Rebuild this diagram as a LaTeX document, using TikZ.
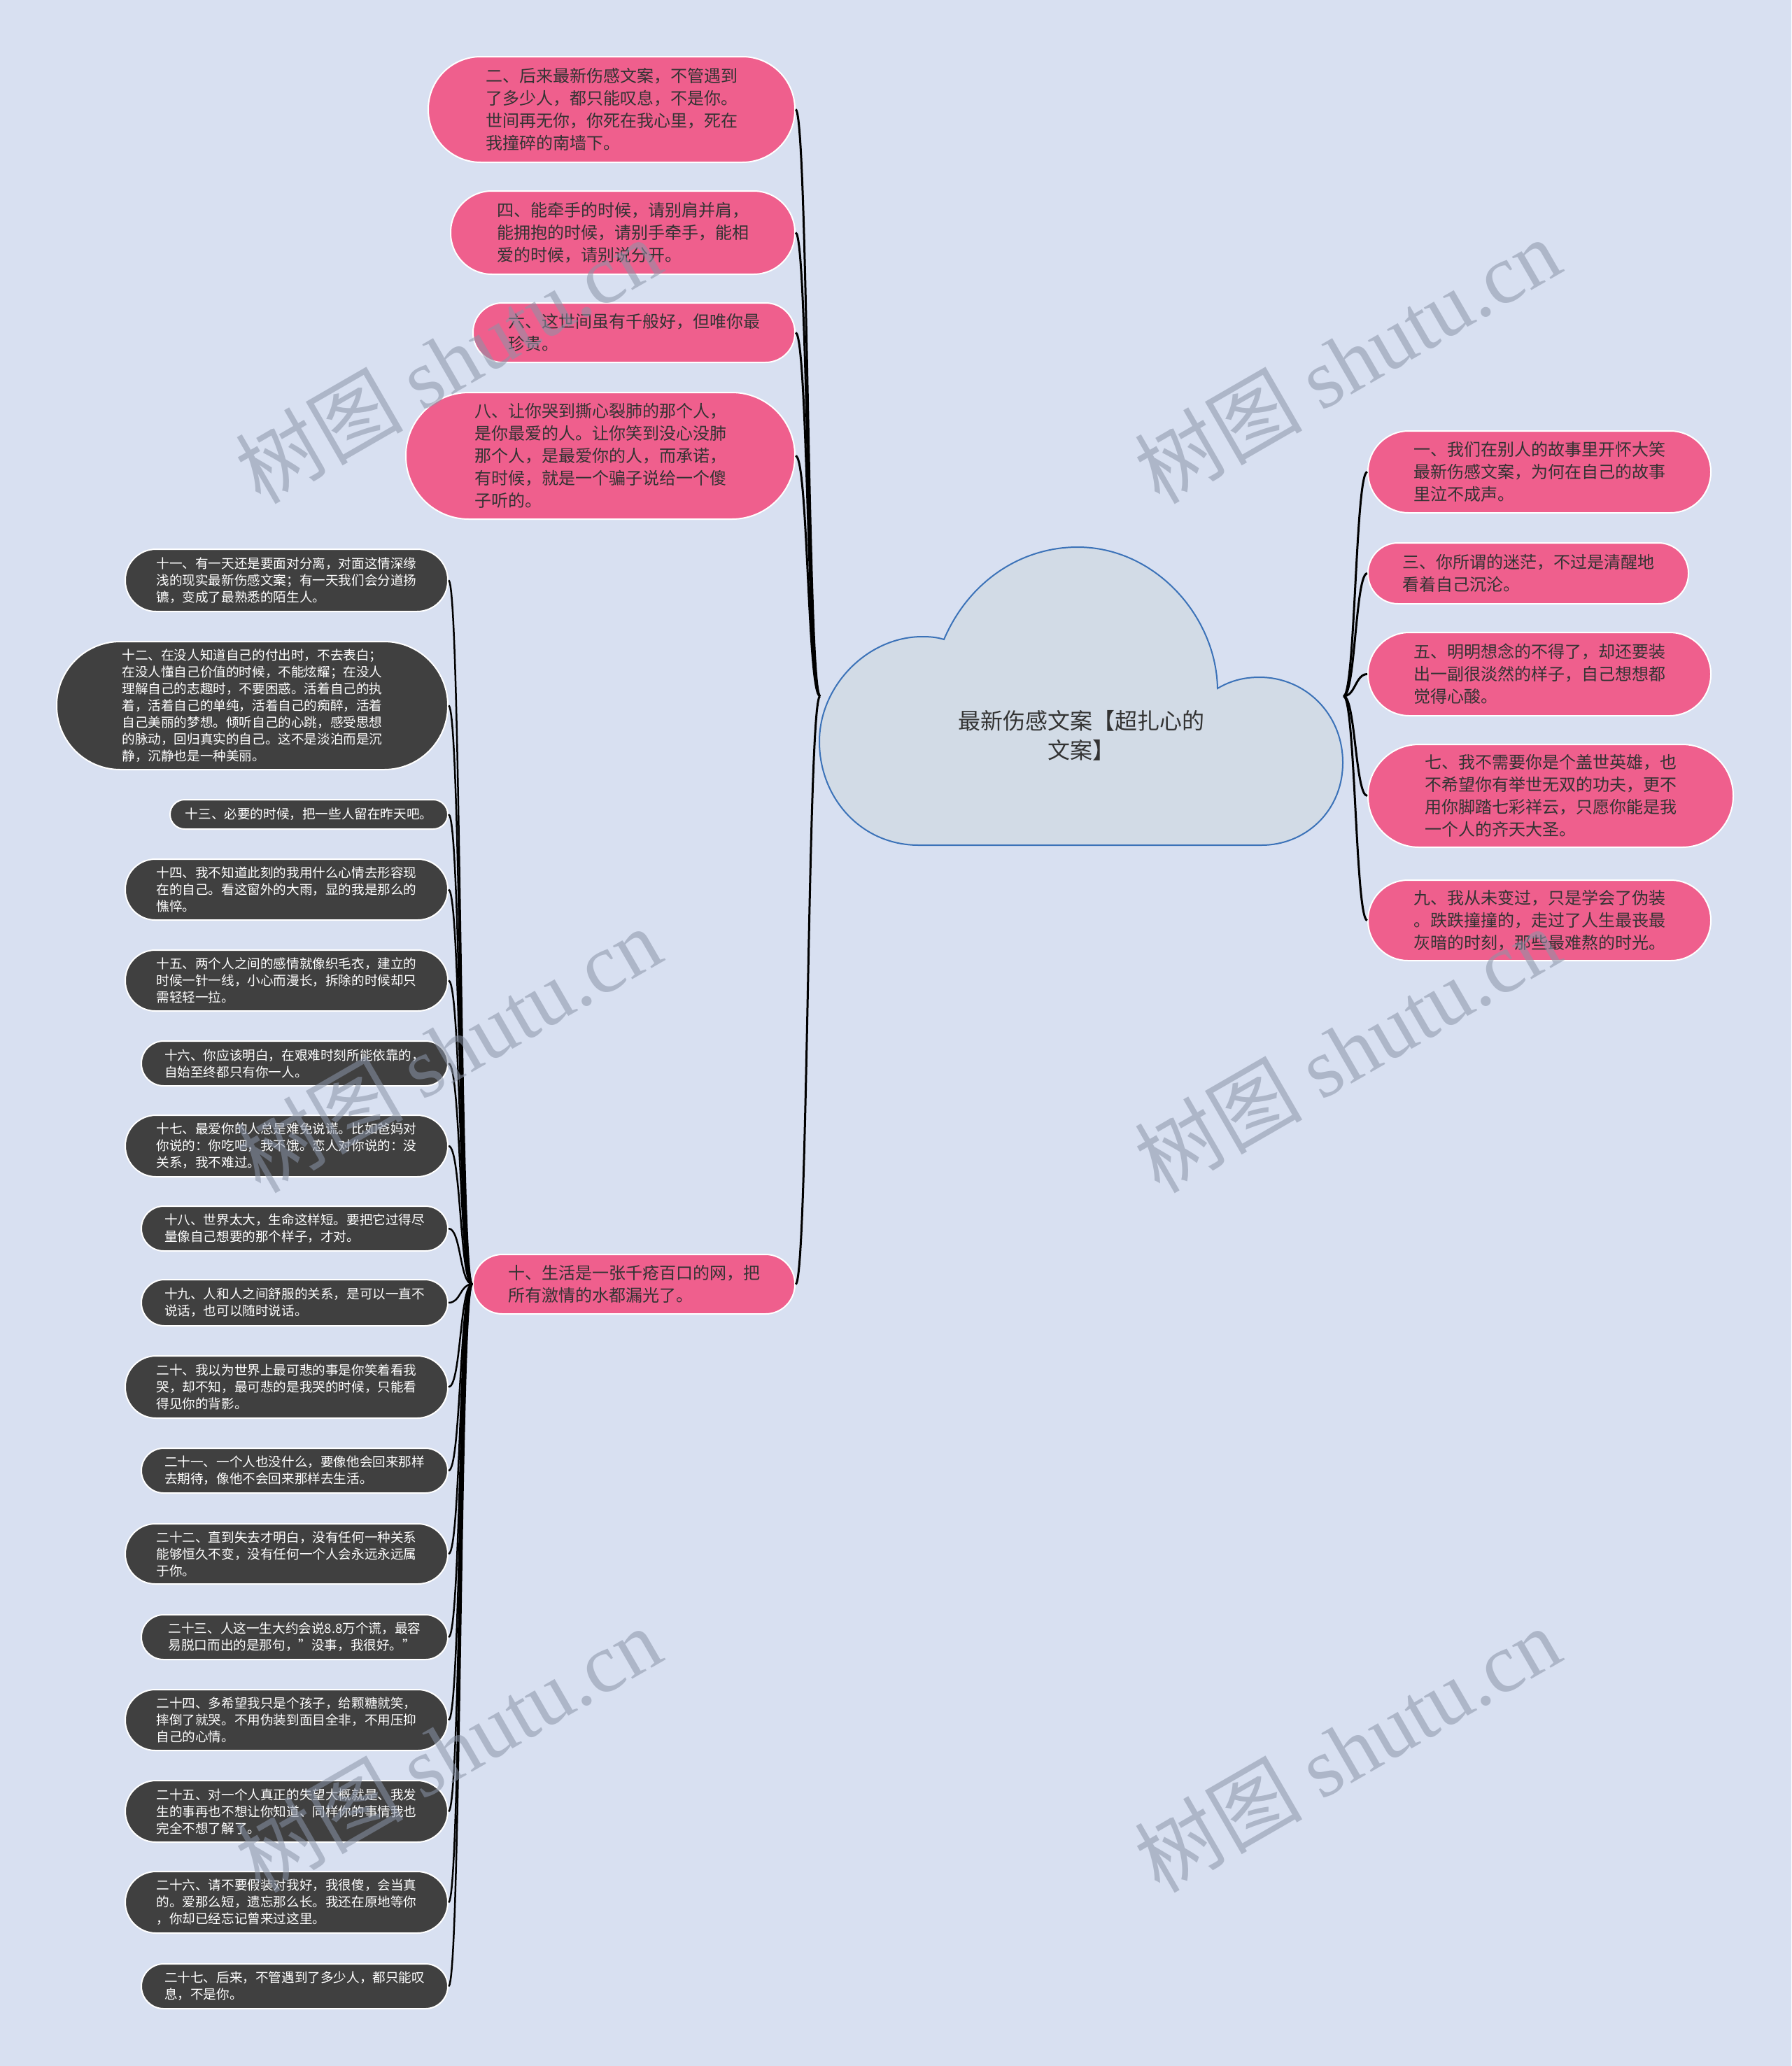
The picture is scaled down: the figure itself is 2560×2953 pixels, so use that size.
\documentclass[tikz,border=0pt]{standalone}
\usepackage{fontspec}
\setmainfont{Noto Sans CJK SC}
\newfontfamily\wmlatin{Liberation Serif}
\usetikzlibrary{calc}
\definecolor{bgc}{HTML}{D8E0F1}
\definecolor{pinkc}{HTML}{EF5F8D}
\definecolor{darkc}{HTML}{404040}
\definecolor{txtc}{HTML}{333333}
\definecolor{cloudc}{HTML}{D2DBE6}
\definecolor{cloudline}{HTML}{3B72B8}
\definecolor{wmc}{HTML}{8A94A8}
\begin{document}
\begin{tikzpicture}[x=1pt,y=-1pt,
  pinkbox/.style={fill=pinkc, draw=white, line width=2pt, text=txtc, align=left, inner sep=0pt, font=\fontsize{24}{32}\selectfont},
  darkbox/.style={fill=darkc, draw=white, line width=2pt, text=white, align=left, inner sep=0pt, font=\fontsize{18.6}{24}\selectfont},
  conn/.style={draw=black, line width=3pt},
  wm/.style={text=wmc, opacity=0.55, rotate=30, inner sep=0pt, font=\fontsize{120}{120}\selectfont}]
\fill[bgc] (0,0) rectangle (2560,2953);
\useasboundingbox (0,0) rectangle (2560,2953);

% central cloud
\path[fill=cloudc, draw=cloudline, line width=2pt]
  (1313,1208) .. controls (1230,1208) and (1171,1140) .. (1171,1060)
  .. controls (1171,980) and (1240,910) .. (1318,910)
  .. controls (1330,910) and (1340,911) .. (1349,914)
  .. controls (1385,830) and (1460,782) .. (1540,782)
  .. controls (1650,782) and (1738,880) .. (1740,984)
  .. controls (1760,972) and (1780,968) .. (1800,968)
  .. controls (1865,968) and (1919,1020) .. (1919,1090)
  .. controls (1919,1160) and (1865,1208) .. (1803,1208) -- cycle;
\node[font=\fontsize{32}{42}\selectfont, text=txtc, align=center, inner sep=0pt] (root) at (1545,1051) {最新伤感文案【超扎心的\\文案】};
\coordinate (cl) at (1172,995);
\coordinate (cr) at (1920,995);

% right pink nodes
\node[pinkbox, minimum width=490pt, minimum height=117pt, rounded corners=58pt] (n1) at (2200,674.5) {一、我们在别人的故事里开怀大笑\\最新伤感文案，为何在自己的故事\\里泣不成声。};
\node[pinkbox, minimum width=458pt, minimum height=87pt, rounded corners=43pt] (n3) at (2184,819.5) {三、你所谓的迷茫，不过是清醒地\\看着自己沉沦。};
\node[pinkbox, minimum width=490pt, minimum height=119pt, rounded corners=59pt] (n5) at (2200,963.5) {五、明明想念的不得了，却还要装\\出一副很淡然的样子，自己想想都\\觉得心酸。};
\node[pinkbox, minimum width=522pt, minimum height=147pt, rounded corners=73pt] (n7) at (2216,1137.5) {七、我不需要你是个盖世英雄，也\\不希望你有举世无双的功夫，更不\\用你脚踏七彩祥云，只愿你能是我\\一个人的齐天大圣。};
\node[pinkbox, minimum width=490pt, minimum height=115pt, rounded corners=57pt] (n9) at (2200,1315.5) {九、我从未变过，只是学会了伪装\\。跌跌撞撞的，走过了人生最丧最\\灰暗的时刻，那些最难熬的时光。};

% left pink nodes
\node[pinkbox, minimum width=524pt, minimum height=151pt, rounded corners=75pt] (n2) at (874,156.5) {二、后来最新伤感文案，不管遇到\\了多少人，都只能叹息，不是你。\\世间再无你，你死在我心里，死在\\我撞碎的南墙下。};
\node[pinkbox, minimum width=492pt, minimum height=119pt, rounded corners=59pt] (n4) at (890,332.5) {四、能牵手的时候，请别肩并肩，\\能拥抱的时候，请别手牵手，能相\\爱的时候，请别说分开。};
\node[pinkbox, minimum width=460pt, minimum height=85pt, rounded corners=42pt] (n6) at (906,475.5) {六、这世间虽有千般好，但唯你最\\珍贵。};
\node[pinkbox, minimum width=556pt, minimum height=181pt, rounded corners=90pt] (n8) at (858,651.5) {八、让你哭到撕心裂肺的那个人，\\是你最爱的人。让你笑到没心没肺\\那个人，是最爱你的人，而承诺，\\有时候，就是一个骗子说给一个傻\\子听的。};
\node[pinkbox, minimum width=460pt, minimum height=85pt, rounded corners=42pt] (n10) at (906,1835.5) {十、生活是一张千疮百口的网，把\\所有激情的水都漏光了。};

% dark nodes
\node[darkbox, minimum width=461pt, minimum height=89pt, rounded corners=44pt] (d11) at (409.5,829.5) {十一、有一天还是要面对分离，对面这情深缘\\浅的现实最新伤感文案；有一天我们会分道扬\\镳，变成了最熟悉的陌生人。};
\node[darkbox, minimum width=559pt, minimum height=183pt, rounded corners=91pt] (d12) at (360.5,1008.5) {十二、在没人知道自己的付出时，不去表白；\\在没人懂自己价值的时候，不能炫耀；在没人\\理解自己的志趣时，不要困惑。活着自己的执\\着，活着自己的单纯，活着自己的痴醉，活着\\自己美丽的梦想。倾听自己的心跳，感受思想\\的脉动，回归真实的自己。这不是淡泊而是沉\\静，沉静也是一种美丽。};
\node[darkbox, minimum width=397pt, minimum height=42pt, rounded corners=21pt] (d13) at (441.5,1164) {十三、必要的时候，把一些人留在昨天吧。};
\node[darkbox, minimum width=461pt, minimum height=87pt, rounded corners=43pt] (d14) at (409.5,1271.5) {十四、我不知道此刻的我用什么心情去形容现\\在的自己。看这窗外的大雨，显的我是那么的\\憔悴。};
\node[darkbox, minimum width=461pt, minimum height=87pt, rounded corners=43pt] (d15) at (409.5,1401.5) {十五、两个人之间的感情就像织毛衣，建立的\\时候一针一线，小心而漫长，拆除的时候却只\\需轻轻一拉。};
\node[darkbox, minimum width=438pt, minimum height=64pt, rounded corners=32pt] (d16) at (421,1520) {十六、你应该明白，在艰难时刻所能依靠的，\\自始至终都只有你一人。};
\node[darkbox, minimum width=461pt, minimum height=88pt, rounded corners=44pt] (d17) at (409.5,1638) {十七、最爱你的人总是难免说谎。比如爸妈对\\你说的：你吃吧，我不饿。恋人对你说的：没\\关系，我不难过。};
\node[darkbox, minimum width=438pt, minimum height=64pt, rounded corners=32pt] (d18) at (421,1756) {十八、世界太大，生命这样短。要把它过得尽\\量像自己想要的那个样子，才对。};
\node[darkbox, minimum width=438pt, minimum height=66pt, rounded corners=33pt] (d19) at (421,1862) {十九、人和人之间舒服的关系，是可以一直不\\说话，也可以随时说话。};
\node[darkbox, minimum width=461pt, minimum height=89pt, rounded corners=44pt] (d20) at (409.5,1982.5) {二十、我以为世界上最可悲的事是你笑着看我\\哭，却不知，最可悲的是我哭的时候，只能看\\得见你的背影。};
\node[darkbox, minimum width=438pt, minimum height=64pt, rounded corners=32pt] (d21) at (421,2102) {二十一、一个人也没什么，要像他会回来那样\\去期待，像他不会回来那样去生活。};
\node[darkbox, minimum width=461pt, minimum height=86pt, rounded corners=43pt] (d22) at (409.5,2221) {二十二、直到失去才明白，没有任何一种关系\\能够恒久不变，没有任何一个人会永远永远属\\于你。};
\node[darkbox, minimum width=438pt, minimum height=64pt, rounded corners=32pt] (d23) at (421,2340) {二十三、人这一生大约会说8.8万个谎，最容\\易脱口而出的是那句，"没事，我很好。"};
\node[darkbox, minimum width=461pt, minimum height=87pt, rounded corners=43pt] (d24) at (409.5,2458.5) {二十四、多希望我只是个孩子，给颗糖就笑，\\摔倒了就哭。不用伪装到面目全非，不用压抑\\自己的心情。};
\node[darkbox, minimum width=461pt, minimum height=88pt, rounded corners=44pt] (d25) at (409.5,2589) {二十五、对一个人真正的失望大概就是、我发\\生的事再也不想让你知道、同样你的事情我也\\完全不想了解了。};
\node[darkbox, minimum width=461pt, minimum height=88pt, rounded corners=44pt] (d26) at (409.5,2719) {二十六、请不要假装对我好，我很傻，会当真\\的。爱那么短，遗忘那么长。我还在原地等你\\，你却已经忘记曾来过这里。};
\node[darkbox, minimum width=438pt, minimum height=64pt, rounded corners=32pt] (d27) at (421,2839) {二十七、后来，不管遇到了多少人，都只能叹\\息，不是你。};

% connectors: cloud right
\foreach \t in {n1,n3,n5,n7,n9}
  \draw[conn] (cr) .. controls ($(cr)+(17,0)$) and ($(\t.west)+(-17,0)$) .. (\t.west);
% connectors: cloud left
\foreach \t in {n2,n4,n6,n8,n10}
  \draw[conn] (cl) .. controls ($(cl)+(-18,0)$) and ($(\t.east)+(18,0)$) .. (\t.east);
% connectors: node ten to dark nodes
\foreach \t in {d11,d12,d13,d14,d15,d16,d17,d18,d19,d20,d21,d22,d23,d24,d25,d26,d27}
  \draw[conn, line width=2.5pt] (n10.west) .. controls ($(n10.west)+(-18,0)$) and ($(\t.east)+(18,0)$) .. (\t.east);

% watermarks
\node[wm] (wm1) at (640,515) {树图 {\wmlatin shutu.cn}};
\node[wm] (wm2) at (1925,515) {树图 {\wmlatin shutu.cn}};
\node[wm] (wm3) at (640,1500) {树图 {\wmlatin shutu.cn}};
\node[wm] (wm4) at (1925,1500) {树图 {\wmlatin shutu.cn}};
\node[wm] (wm5) at (640,2500) {树图 {\wmlatin shutu.cn}};
\node[wm] (wm6) at (1925,2500) {树图 {\wmlatin shutu.cn}};
\end{tikzpicture}
\end{document}
